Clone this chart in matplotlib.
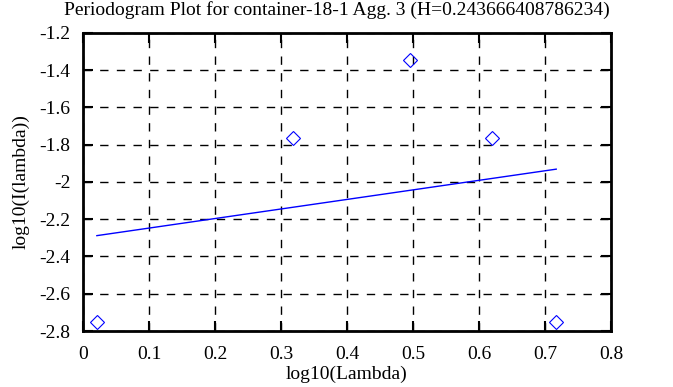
import matplotlib
matplotlib.use("Agg")
import matplotlib.pyplot as plt
import numpy as np

# periodogram points (log10 lambda, log10 I(lambda))
log_lambda = [0.021, 0.318, 0.496, 0.620, 0.717]
log_I = [-2.752, -1.765, -1.345, -1.765, -2.752]

# fitted line endpoints
fit_x = [0.021, 0.717]
fit_y = [-2.288, -1.931]

plt.rcParams["font.family"] = ["Liberation Serif", "DejaVu Serif"]

fig = plt.figure(figsize=(6.73, 3.87), dpi=100)
ax = fig.add_axes([83 / 673, 1 - 331 / 387, (611 - 83) / 673, (331 - 33) / 387])

ax.plot(fit_x, fit_y, color="blue", lw=1)
ax.plot(log_lambda, log_I, ls="none", marker="D", ms=7.5, mfc="none", mec="blue", mew=0.8)

ax.set_xlim(0, 0.8)
ax.set_ylim(-2.8, -1.2)
ax.set_xticks(np.arange(0, 0.81, 0.1))
ax.set_xticklabels(["0", "0.1", "0.2", "0.3", "0.4", "0.5", "0.6", "0.7", "0.8"])
ax.set_yticks(np.arange(-2.8, -1.19, 0.2))
ax.set_yticklabels(["-2.8", "-2.6", "-2.4", "-2.2", "-2", "-1.8", "-1.6", "-1.4", "-1.2"])
ax.grid(True, color="black", ls=(0, (6, 6)), lw=1)
ax.tick_params(direction="in", length=7, width=1.5, labelsize=14, top=True, right=True)
ax.tick_params(axis="x", pad=11)
ax.tick_params(axis="y", pad=9)
for s in ax.spines.values():
    s.set_linewidth(2)

ax.set_xlabel("log10(Lambda)", fontsize=14, labelpad=2)
ax.set_ylabel("log10(I(lambda))", fontsize=14, labelpad=7)
fig.text(0.5, 1 - 10 / 387, "Periodogram Plot for container-18-1 Agg. 3 (H=0.243666408786234)",
         fontsize=14, ha="center", va="center")

fig.savefig("out.png", dpi=100)
